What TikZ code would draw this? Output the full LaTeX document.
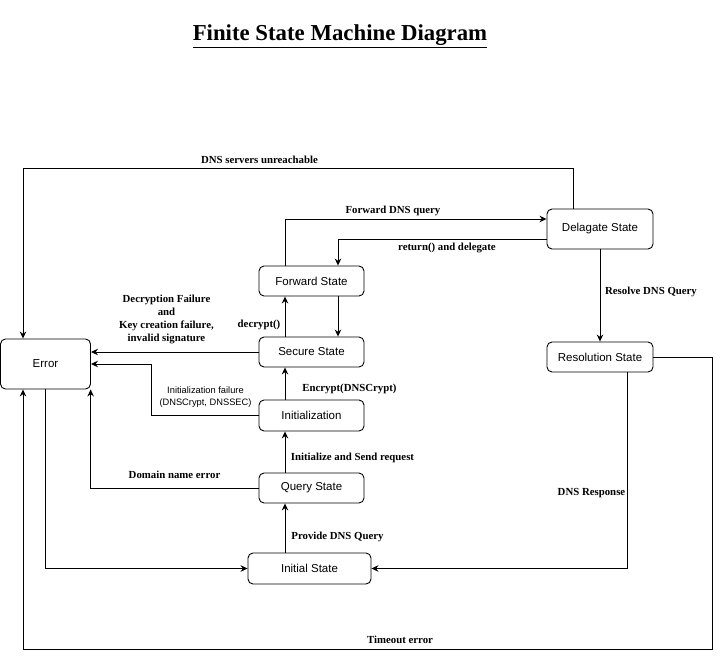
\documentclass[tikz,border=0pt]{standalone}
\usepackage{fontspec}
\setmainfont{Liberation Serif}
\newfontfamily\arialf{Liberation Sans}
\usetikzlibrary{arrows.meta}
\tikzset{
  state/.style={draw, rounded corners=5pt, line width=0.9pt, font=\arialf\fontsize{11.5}{13}\selectfont, inner sep=0pt, align=center},
  arr/.style={draw, line width=0.9pt, -{Stealth[length=7pt,width=6.5pt]}},
  lab/.style={font=\bfseries\fontsize{10.8}{13}\selectfont, inner sep=0pt, align=center},
  slab/.style={font=\arialf\fontsize{9.3}{12}\selectfont, inner sep=0pt, align=center}
}
\begin{document}
\begin{tikzpicture}[x=1pt,y=-1pt]
\useasboundingbox (0,0) rectangle (721,659);
\node[font=\bfseries\fontsize{22.8}{26}\selectfont, inner sep=0pt] (title) at (340,36) {\underline{Finite State Machine Diagram}};

\node[state, minimum width=90pt, minimum height=50pt] (err) at (45.5,364) {Error};
\node[state, minimum width=105pt, minimum height=30pt] (fwd) at (311.5,281) {Forward State};
\node[state, minimum width=105pt, minimum height=30pt] (sec) at (311.5,352) {Secure State};
\node[state, minimum width=105pt, minimum height=31pt] (ini) at (311.5,415.5) {Initialization};
\node[state, minimum width=105pt, minimum height=30pt] (qry) at (311.5,488) {Query State};
\node[state, minimum width=123pt, minimum height=31pt] (ist) at (309.5,568.5) {Initial State};
\node[state, minimum width=106pt, minimum height=40pt] (del) at (600,229) {Delagate State};
\node[state, minimum width=106pt, minimum height=30pt] (res) at (600,357) {Resolution State};

% connectors
\draw[arr] ([xshift=-27pt]del.north) -- ++(0,-40) -| ([xshift=-22.5pt]err.north);
\draw[arr] ([xshift=-26.5pt]fwd.north) |- ([yshift=10pt]del.west);
\draw[arr] ([yshift=-10pt]del.west) -| ([xshift=26.5pt]fwd.north);
\draw[arr] ([xshift=26.5pt]fwd.south) -- ([xshift=26.5pt]sec.north);
\draw[arr] ([xshift=-26.5pt]sec.north) -- ([xshift=-26.5pt]fwd.south);
\draw[arr] (sec.west) -- (sec.west -| err.east);
\draw[arr] (ini.west) -- ++(-107,0) |- (err.east);
\draw[arr] ([xshift=-26.5pt]ini.north) -- ([xshift=-26.5pt]sec.south);
\draw[arr] ([xshift=-26.5pt]qry.north) -- ([xshift=-26.5pt]ini.south);
\draw[arr] (qry.west) -| ([xshift=-0.3pt]err.south east);
\draw[arr] ([xshift=-24.5pt]ist.north) -- ([xshift=-26.5pt]qry.south);
\draw[arr] (err.south) |- (ist.west);
\draw[arr] (del.south) -- (res.north);
\draw[arr] ([xshift=27pt]res.south) |- (ist.east);
\coordinate (tc) at (712,649);
\draw[arr] (res.east) -| (tc) -| ([xshift=-22.5pt]err.south);

% labels
\node[lab] (l1) at (259.5,160) {DNS servers unreachable};
\node[lab] (l2) at (393,211) {Forward DNS query};
\node[lab] (l3) at (447,248) {return() and delegate};
\node[lab] (l4) at (259,325) {decrypt()};
\node[lab] (l5) at (166.5,319.5) {Decryption Failure\\and\\Key creation failure,\\invalid signature};
\node[slab] (l6) at (205.5,397) {Initialization failure\\(DNSCrypt, DNSSEC)};
\node[lab] (l7) at (349.5,389) {Encrypt(DNSCrypt)};
\node[lab] (l8) at (352.5,458) {Initialize and Send request};
\node[lab] (l9) at (174.5,475) {Domain name error};
\node[lab] (l10) at (337.5,537) {Provide DNS Query};
\node[lab] (l11) at (651,292) {Resolve DNS Query};
\node[lab] (l12) at (591.5,493) {DNS Response};
\node[lab] (l13) at (400,640) {Timeout error};
\end{tikzpicture}
\end{document}
